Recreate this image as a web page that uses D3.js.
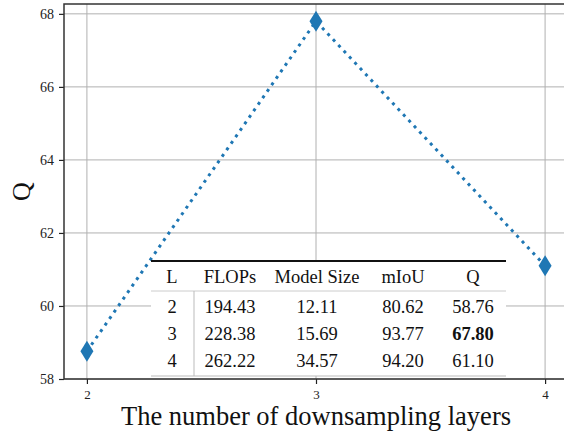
<!DOCTYPE html>
<html lang="en">
<head>
<meta charset="UTF-8">
<title>Downsampling layers vs Q</title>
<script src="https://d3js.org/d3.v7.min.js"></script>
<style>
  body { margin: 0; background: #fff; }
  text { font-family: "Liberation Serif", "DejaVu Serif", serif; }
</style>
</head>
<body>
<script>
// data
const layers = [2, 3, 4];
const qValues = [58.76, 67.80, 61.10];
const yTicks = [58, 60, 62, 64, 66, 68];

// table data
const tableHead = ["L", "FLOPs", "Model Size", "mIoU", "Q"];
const tableL = ["2", "3", "4"];
const tableFlops = ["194.43", "228.38", "262.22"];
const tableSize = ["12.11", "15.69", "34.57"];
const tableMiou = ["80.62", "93.77", "94.20"];
const tableQ = ["58.76", "67.80", "61.10"];
const bestRow = 1;

const width = 564, height = 436;
const mLeft = 64, mRight = 568, mTop = 4, mBottom = 379;

const svg = d3.select("body").append("svg")
    .attr("width", width).attr("height", height);

const x = d3.scaleLinear().domain([1.9, 4.1]).range([mLeft, mRight]);
const y = d3.scaleLinear().domain([58, 68.27]).range([mBottom, mTop]);

// grid
const grid = svg.append("g").attr("stroke", "#b0b0b0").attr("stroke-width", 1);
grid.selectAll(".gy").data(yTicks).enter().append("line")
    .attr("x1", mLeft).attr("x2", mRight)
    .attr("y1", d => y(d)).attr("y2", d => y(d));
grid.selectAll(".gx").data(layers).enter().append("line")
    .attr("y1", mTop).attr("y2", mBottom)
    .attr("x1", d => x(d)).attr("x2", d => x(d));

// axes
const yAxis = svg.append("g").attr("transform", `translate(${mLeft},0)`)
    .call(d3.axisLeft(y).tickValues(yTicks).tickSize(5).tickPadding(5).tickFormat(d3.format("d")));
const xAxis = svg.append("g").attr("transform", `translate(0,${mBottom})`)
    .call(d3.axisBottom(x).tickValues(layers).tickSize(5).tickPadding(6).tickFormat(d3.format("d")));
[yAxis, xAxis].forEach(a => {
  a.attr("font-family", "Liberation Serif");
  a.select(".domain").remove();
  a.selectAll("line").attr("stroke", "#222").attr("stroke-width", 1.2);
  a.selectAll("text").attr("fill", "#222");
});
yAxis.attr("font-size", 14);
xAxis.attr("font-size", 13);

// spines (left, top, bottom)
const spines = svg.append("g").attr("stroke", "#333").attr("stroke-width", 1.5).attr("fill", "none");
spines.append("path").attr("d", `M${mRight},${mTop}H${mLeft}V${mBottom}H${mRight}`);

// line + markers
const pts = layers.map((l, i) => [l, qValues[i]]);
svg.append("path").datum(pts)
    .attr("fill", "none").attr("stroke", "#1f77b4").attr("stroke-width", 3)
    .attr("stroke-dasharray", "3 4.9")
    .attr("d", d3.line().x(d => x(d[0])).y(d => y(d[1])));
svg.selectAll(".mk").data(pts).enter().append("path")
    .attr("fill", "#1f77b4")
    .attr("transform", d => `translate(${x(d[0])},${y(d[1])})`)
    .attr("d", "M0,-10.5L6.5,0L0,10.5L-6.5,0Z");

// table
const tx0 = 151, tx1 = 506, tTop = 261, tHeadLine = 291, tBot = 376;
const colX = [172, 230, 317, 403, 473];
const rowY = [307, 334, 361];
const tb = svg.append("g");
tb.append("rect").attr("x", tx0).attr("y", tTop).attr("width", tx1 - tx0).attr("height", tBot - tTop)
    .attr("fill", "#fff");
tb.append("line").attr("x1", tx0).attr("x2", tx1).attr("y1", tTop).attr("y2", tTop)
    .attr("stroke", "#111").attr("stroke-width", 2);
tb.append("line").attr("x1", tx0).attr("x2", tx1).attr("y1", tHeadLine).attr("y2", tHeadLine)
    .attr("stroke", "#ccc").attr("stroke-width", 1);
tb.append("line").attr("x1", tx0).attr("x2", tx1).attr("y1", tBot).attr("y2", tBot)
    .attr("stroke", "#bbb").attr("stroke-width", 1);
tb.append("line").attr("x1", 194).attr("x2", 194).attr("y1", tHeadLine).attr("y2", tBot)
    .attr("stroke", "#bbb").attr("stroke-width", 1);

tb.selectAll(".th").data(tableHead).enter().append("text")
    .attr("x", (d, i) => colX[i]).attr("y", 277).attr("dy", "0.35em")
    .attr("text-anchor", "middle").style("font-size", "18.5px").attr("fill", "#111")
    .text(d => d);
const rows = tableL.map((l, i) => [l, tableFlops[i], tableSize[i], tableMiou[i], tableQ[i]]);
rows.forEach((r, ri) => {
  tb.selectAll(".r" + ri).data(r).enter().append("text")
    .attr("x", (d, i) => colX[i]).attr("y", rowY[ri]).attr("dy", "0.35em")
    .attr("text-anchor", "middle").style("font-size", "18.5px").attr("fill", "#111")
    .style("font-weight", (d, i) => (ri === bestRow && i === 4) ? "bold" : "normal")
    .text(d => d);
});

// axis labels
svg.append("text").attr("transform", `translate(30,${(mTop + mBottom) / 2}) rotate(-90)`)
    .attr("text-anchor", "middle").style("font-size", "26px").attr("fill", "#111").text("Q");
svg.append("text").attr("x", (x(2) + x(4)) / 2).attr("y", 425)
    .attr("text-anchor", "middle").style("font-size", "26.5px").attr("fill", "#111")
    .text("The number of downsampling layers");
</script>
</body>
</html>
